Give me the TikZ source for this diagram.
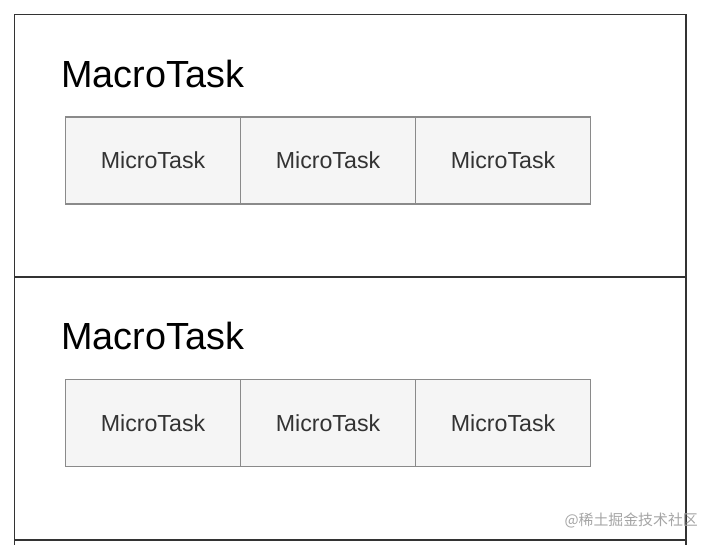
\documentclass[tikz,border=0pt]{standalone}
\usepackage{fontspec}
\setmainfont{Liberation Sans}
\newfontfamily\cjkfont{Noto Sans CJK SC}
\usetikzlibrary{positioning}

\definecolor{frameline}{HTML}{333333}
\definecolor{microfill}{HTML}{F5F5F5}
\definecolor{microline}{HTML}{8A8A8A}
\definecolor{microtext}{HTML}{333333}
\definecolor{marktext}{HTML}{A5A5A5}

\begin{document}
\begin{tikzpicture}
			[x=1pt, y=-1pt,
			macro/.style={draw=frameline, line width=1.5pt, minimum width=671.5pt, minimum height=262.5pt, inner sep=0pt, outer sep=0pt, anchor=north west},
			micro/.style={draw=microline, line width=1.1pt, fill=microfill, minimum width=175pt, minimum height=87pt, inner sep=0pt, outer sep=0pt, text=microtext, font=\fontsize{23.2}{26}\selectfont},
			title/.style={anchor=base west, inner sep=0pt, font=\fontsize{37.8}{42}\selectfont},
			node distance=0pt]
			\clip (0,0) rectangle (715,545);
			% frames
			\node[macro] (M1) at (14.5, 14.5) {};
			\node[macro] (M2) at (14.5, 277) {};
			\node[macro] (M3) at (14.5, 540) {};
			% first macro task
			\node[title] (L1) at (61, 88) {MacroTask};
			\node[micro, anchor=north west] (A1) at (65.5, 117) {MicroTask};
			\node[micro, right=of A1] (A2) {MicroTask};
			\node[micro, right=of A2] (A3) {MicroTask};
			% second macro task
			\node[title] (L2) at (61, 350) {MacroTask};
			\node[micro, anchor=north west] (B1) at (65.5, 379.5) {MicroTask};
			\node[micro, right=of B1] (B2) {MicroTask};
			\node[micro, right=of B2] (B3) {MicroTask};
			% watermark
			\node[text=marktext, anchor=east, inner sep=0pt, font=\cjkfont\fontsize{14.9}{17}\selectfont] (W) at (698, 520) {@稀土掘金技术社区};
\end{tikzpicture}
\end{document}
